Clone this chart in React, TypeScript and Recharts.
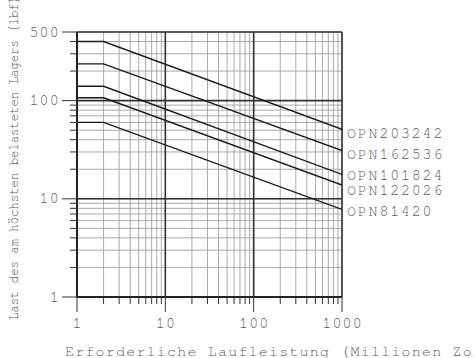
import React from 'react';
import { LineChart, Line, XAxis, YAxis, CartesianGrid, ReferenceLine, LabelList } from 'recharts';

// ---- data ----
const lifeX = [1, 2, 1000];
const seriesNames = ['OPN203242', 'OPN162536', 'OPN101824', 'OPN122026', 'OPN81420'];
const opn203242 = [400, 400, 51];
const opn162536 = [237, 237, 31];
const opn101824 = [140, 140, 17.7];
const opn122026 = [107, 107, 13.8];
const opn81420 = [60, 60, 7.8];
const seriesValues = [opn203242, opn162536, opn101824, opn122026, opn81420];

const xTicks = [1, 2, 3, 4, 5, 6, 7, 8, 9, 10, 20, 30, 40, 50, 60, 70, 80, 90, 100, 200, 300, 400, 500, 600, 700, 800, 900, 1000];
const yTicks = [1, 2, 3, 4, 5, 6, 7, 8, 9, 10, 20, 30, 40, 50, 60, 70, 80, 90, 100, 200, 300, 400, 500];
const xLabelTicks = [1, 10, 100, 1000];
const yLabelTicks = [1, 10, 100, 500];
const xMajorGrid = [10, 100, 1000];
const yMajorGrid = [10, 100, 500];

const xTitle = 'Erforderliche Laufleistung (Millionen Zoll)';
const yTitle = 'Last des am höchsten belasteten Lagers (lbf)';

// ---- style ----
const labelNudge = [8.2, 8.1, 5.2, 10.2, 6.9];
const TEXT = '#5a5a5a';
const MONO = '"Nimbus Mono PS", "Nimbus Mono L", "FreeMono", "Courier New", Courier, "Liberation Mono", monospace';
const FS = 15;

const tableData = lifeX.map((x, i) => {
  const row: any = { x };
  seriesValues.forEach((s, k) => {
    row['s' + k] = s[i];
  });
  return row;
});

const XTick = (props: any) => {
  const { x, y, payload } = props;
  const v = payload.value;
  const major = xLabelTicks.includes(v);
  return (
    <g>
      <line x1={x} x2={x} y1={y} y2={y + (major ? 15 : 7)} stroke="#333" strokeWidth={1} />
      {major && (
        <text x={x + 0.6} y={y + 31} textAnchor="middle" fill={TEXT} fontFamily={MONO} fontSize={FS} letterSpacing={1.2}>
          {v}
        </text>
      )}
    </g>
  );
};

const YTick = (props: any) => {
  const { x, y, payload } = props;
  const v = payload.value;
  const major = yLabelTicks.includes(v);
  return (
    <g>
      <line x1={x - (major ? 15 : 7)} x2={x} y1={y} y2={y} stroke="#333" strokeWidth={1} />
      {major && (
        <text x={x - 17} y={y + 4.5} textAnchor="end" fill={TEXT} fontFamily={MONO} fontSize={FS} letterSpacing={1.2}>
          {v}
        </text>
      )}
    </g>
  );
};

const makeEndLabel = (k: number) => (props: any) => {
  const { x, y, index } = props;
  if (index !== lifeX.length - 1) return null;
  return (
    <text x={x + 5} y={y + labelNudge[k]} fill={TEXT} fontFamily={MONO} fontSize={FS} letterSpacing={1.8}>
      {seriesNames[k]}
    </text>
  );
};

export default function App() {
  return (
    <div style={{ position: 'absolute', left: 0, top: 0, width: 475, height: 358, overflow: 'hidden', background: '#fff' }}>
      <LineChart width={475} height={358} data={tableData} margin={{ top: 32, right: 133, left: 0, bottom: 0 }}>
        <CartesianGrid stroke="#aaaaaa" strokeWidth={1} />
        <XAxis
          dataKey="x"
          type="number"
          scale="log"
          domain={[1, 1000]}
          ticks={xTicks}
          interval={0}
          tickSize={0}
          tickMargin={0}
          tick={<XTick />}
          height={61}
          axisLine={{ stroke: '#222', strokeWidth: 2 }}
          allowDataOverflow
          label={{
            content: () => (
              <text x={65} y={356} fill={TEXT} fontFamily={MONO} fontSize={FS} letterSpacing={1.2}>
                {xTitle}
              </text>
            ),
          }}
        />
        <YAxis
          type="number"
          scale="log"
          domain={[1, 500]}
          ticks={yTicks}
          interval={0}
          tickSize={0}
          tickMargin={0}
          tick={<YTick />}
          width={77}
          axisLine={{ stroke: '#222', strokeWidth: 2 }}
          allowDataOverflow
          label={{
            content: () => (
              <text
                x={0}
                y={0}
                transform="translate(18,158) rotate(-90)"
                textAnchor="middle"
                fill={TEXT}
                fontFamily={MONO}
                fontSize={FS}
                textLength={324}
                lengthAdjust="spacingAndGlyphs"
              >
                {yTitle}
              </text>
            ),
          }}
        />
        {xMajorGrid.map((v) => (
          <ReferenceLine key={'xv' + v} x={v} stroke="#333" strokeWidth={1.6} />
        ))}
        {yMajorGrid.map((v) => (
          <ReferenceLine key={'yv' + v} y={v} stroke="#333" strokeWidth={1.6} />
        ))}
        {seriesNames.map((name, k) => (
          <Line
            key={name}
            dataKey={'s' + k}
            stroke="#1a1a1a"
            strokeWidth={1.4}
            dot={false}
            isAnimationActive={false}
          >
            <LabelList dataKey={'s' + k} content={makeEndLabel(k)} />
          </Line>
        ))}
      </LineChart>
    </div>
  );
}
